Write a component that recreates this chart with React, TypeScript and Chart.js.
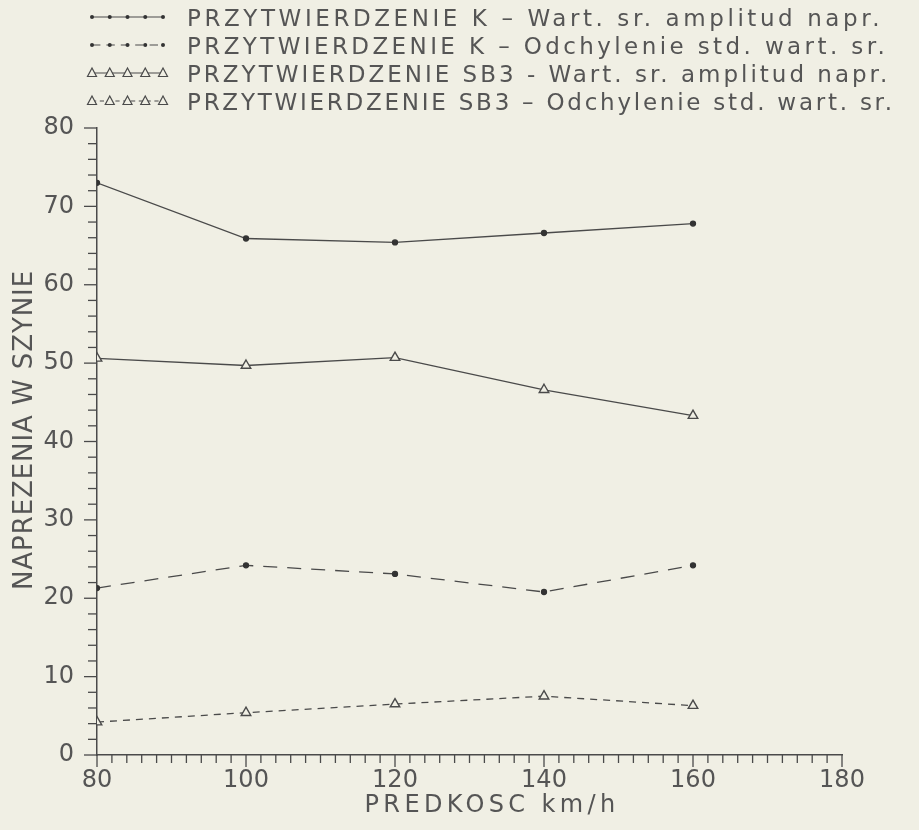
import React, { useEffect, useRef } from "react";
import { Chart, registerables } from "chart.js";

Chart.register(...registerables);

// ---- data ----
const speeds = [80, 100, 120, 140, 160];
const kMean = [73.0, 65.9, 65.4, 66.6, 67.8];
const kStd = [21.3, 24.2, 23.1, 20.8, 24.2];
const sb3Mean = [50.6, 49.7, 50.7, 46.6, 43.3];
const sb3Std = [4.2, 5.4, 6.5, 7.5, 6.3];

const seriesLabels = [
  "PRZYTWIERDZENIE K – Wart. sr. amplitud napr.",
  "PRZYTWIERDZENIE K – Odchylenie std. wart. sr.",
  "PRZYTWIERDZENIE SB3 - Wart. sr. amplitud napr.",
  "PRZYTWIERDZENIE SB3 – Odchylenie std. wart. sr.",
];

const xTickValues = [80, 100, 120, 140, 160, 180];
const yTickValues = [0, 10, 20, 30, 40, 50, 60, 70, 80];
const xTitle = "PREDKOSC km/h";
const yTitle = "NAPREZENIA W SZYNIE";

// ---- style ----
const PAPER = "#f0efe4";
const INK = "#4a4a4a";
const TEXT = "#555555";
const FONT = '"DejaVu Sans", "Noto Sans", sans-serif';

function drawMarker(ctx: CanvasRenderingContext2D, style: string, x: number, y: number, r: number) {
  ctx.save();
  ctx.lineWidth = 1.2;
  ctx.strokeStyle = INK;
  if (style === "circle") {
    ctx.fillStyle = "#333";
    ctx.beginPath();
    ctx.arc(x, y, r, 0, Math.PI * 2);
    ctx.fill();
  } else {
    ctx.fillStyle = PAPER;
    ctx.beginPath();
    ctx.moveTo(x, y - r);
    ctx.lineTo(x + r * 0.9, y + r * 0.7);
    ctx.lineTo(x - r * 0.9, y + r * 0.7);
    ctx.closePath();
    ctx.fill();
    ctx.stroke();
  }
  ctx.restore();
}

function fitText(
  ctx: CanvasRenderingContext2D,
  text: string,
  x: number,
  y: number,
  targetWidth: number
) {
  const anyCtx = ctx as any;
  const hasLS = "letterSpacing" in anyCtx;
  if (hasLS) anyCtx.letterSpacing = "0px";
  const w0 = ctx.measureText(text).width;
  if (hasLS) {
    const sp = Math.max(0, (targetWidth - w0) / text.length);
    anyCtx.letterSpacing = sp.toFixed(2) + "px";
  }
  ctx.fillText(text, x, y);
  if (hasLS) anyCtx.letterSpacing = "0px";
}

const decorPlugin = {
  id: "decor",
  beforeDraw(chart: any) {
    const { ctx, width, height } = chart;
    ctx.save();
    ctx.fillStyle = PAPER;
    ctx.fillRect(0, 0, width, height);
    ctx.restore();
  },
  afterDraw(chart: any) {
    const ctx: CanvasRenderingContext2D = chart.ctx;
    const xs = chart.scales.x;
    const ys = chart.scales.y;
    ctx.save();
    ctx.strokeStyle = INK;
    ctx.lineWidth = 1.3;

    // y-axis major/minor ticks
    for (let v = ys.min; v <= ys.max + 0.001; v += 2) {
      const y = ys.getPixelForValue(v);
      const major = Math.abs(v % 10) < 0.001;
      ctx.beginPath();
      ctx.moveTo(ys.right - (major ? 13 : 9), y);
      ctx.lineTo(ys.right, y);
      ctx.stroke();
    }
    // x-axis major/minor ticks
    for (let v = xs.min; v <= xs.max + 0.001; v += 2) {
      const x = xs.getPixelForValue(v);
      const major = Math.abs(v % 20) < 0.001;
      ctx.beginPath();
      ctx.moveTo(x, xs.top);
      ctx.lineTo(x, xs.top + (major ? 12 : 8));
      ctx.stroke();
    }

    // legend
    const sx0 = 92;
    const sx1 = 163;
    const textX = 187;
    const rowsY = [17, 45, 73, 101];
    const rowEnds = [883, 888, 890, 895];
    ctx.fillStyle = TEXT;
    ctx.font = `23px ${FONT}`;
    ctx.textBaseline = "alphabetic";
    ctx.textAlign = "left";
    chart.data.datasets.forEach((ds: any, i: number) => {
      const y = rowsY[i];
      ctx.save();
      ctx.strokeStyle = INK;
      ctx.lineWidth = 1.2;
      ctx.setLineDash(ds.borderDash ? ds.borderDash.map((d: number) => d * 0.6) : []);
      ctx.beginPath();
      ctx.moveTo(sx0, y);
      ctx.lineTo(sx1, y);
      ctx.stroke();
      ctx.restore();
      for (let k = 0; k < 5; k++) {
        const mx = sx0 + ((sx1 - sx0) * k) / 4;
        drawMarker(ctx, ds.pointStyle, mx, y, ds.pointStyle === "circle" ? 2 : 5);
      }
      ctx.fillStyle = TEXT;
      fitText(ctx, ds.label as string, textX, y + 8.5, rowEnds[i] - textX);
    });

    // axis titles
    ctx.fillStyle = TEXT;
    ctx.textAlign = "center";
    ctx.textBaseline = "middle";
    ctx.font = `24px ${FONT}`;
    fitText(ctx, xTitle, 492, 806, 255);

    ctx.save();
    ctx.translate(25, 430);
    ctx.rotate(-Math.PI / 2);
    ctx.font = `26px ${FONT}`;
    fitText(ctx, yTitle, 0, 0, 320);
    ctx.restore();

    ctx.restore();
  },
};

export default function App() {
  const canvasRef = useRef<HTMLCanvasElement | null>(null);

  useEffect(() => {
    if (!canvasRef.current) return;
    const mk = (vals: number[]) => speeds.map((s, i) => ({ x: s, y: vals[i] }));
    const chart = new Chart(canvasRef.current, {
      type: "line",
      data: {
        datasets: [
          {
            label: seriesLabels[0],
            data: mk(kMean),
            borderColor: INK,
            borderWidth: 1.3,
            pointStyle: "circle",
            pointRadius: 2.5,
            pointBackgroundColor: "#333",
            pointBorderColor: "#333",
            tension: 0,
          },
          {
            label: seriesLabels[1],
            data: mk(kStd),
            borderColor: INK,
            borderWidth: 1.3,
            borderDash: [14, 10],
            pointStyle: "circle",
            pointRadius: 2.5,
            pointBackgroundColor: "#333",
            pointBorderColor: "#333",
            tension: 0,
          },
          {
            label: seriesLabels[2],
            data: mk(sb3Mean),
            borderColor: INK,
            borderWidth: 1.3,
            pointStyle: "triangle",
            pointRadius: 5.5,
            pointBorderWidth: 1.4,
            pointBackgroundColor: PAPER,
            pointBorderColor: INK,
            tension: 0,
          },
          {
            label: seriesLabels[3],
            data: mk(sb3Std),
            borderColor: INK,
            borderWidth: 1.3,
            borderDash: [7, 6],
            pointStyle: "triangle",
            pointRadius: 5.5,
            pointBorderWidth: 1.4,
            pointBackgroundColor: PAPER,
            pointBorderColor: INK,
            tension: 0,
          },
        ],
      },
      options: {
        responsive: false,
        devicePixelRatio: 1,
        animation: false,
        layout: { padding: { top: 128, right: 77, left: 0, bottom: 0 } },
        plugins: {
          legend: { display: false },
          tooltip: { enabled: false },
          title: { display: false },
        },
        scales: {
          x: {
            type: "linear",
            min: 80,
            max: 180,
            afterFit: (s: any) => {
              s.height = 75;
            },
            afterBuildTicks: (s: any) => {
              s.ticks = xTickValues.map((v) => ({ value: v }));
            },
            grid: { display: false, drawTicks: false },
            border: { display: true, color: INK, width: 1.5 },
            ticks: {
              padding: 11,
              color: TEXT,
              font: { family: FONT, size: 24 },
              maxRotation: 0,
              autoSkip: false,
            },
          },
          y: {
            type: "linear",
            min: 0,
            max: 80,
            afterFit: (s: any) => {
              s.width = 97;
            },
            afterBuildTicks: (s: any) => {
              s.ticks = yTickValues.map((v) => ({ value: v }));
            },
            grid: { display: false, drawTicks: false },
            border: { display: true, color: INK, width: 1.5 },
            ticks: {
              padding: 23,
              color: TEXT,
              font: { family: FONT, size: 24 },
              autoSkip: false,
            },
          },
        },
      },
      plugins: [decorPlugin],
    });
    return () => chart.destroy();
  }, []);

  return (
    <div style={{ position: "absolute", left: 0, top: 0, width: 919, height: 830 }}>
      <canvas ref={canvasRef} width={919} height={830} style={{ display: "block" }} />
    </div>
  );
}
